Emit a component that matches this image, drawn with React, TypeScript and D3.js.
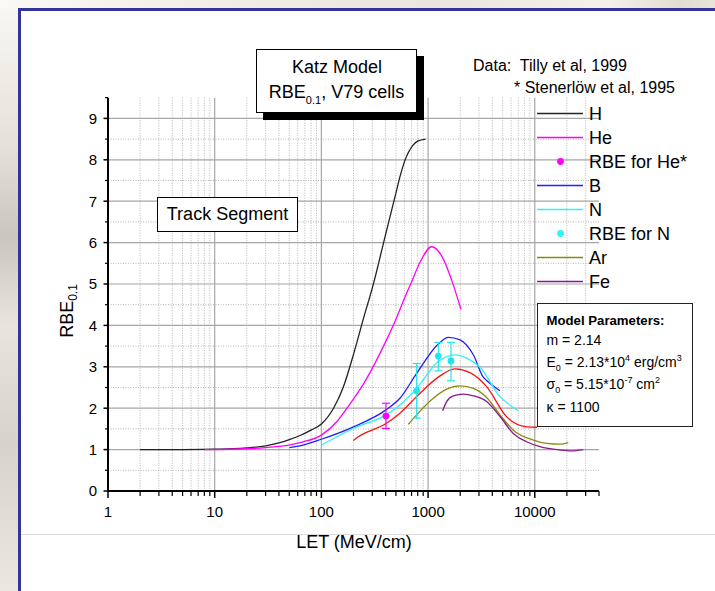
import React from 'react';
import * as d3 from 'd3';

// ---------- data (LET in MeV/cm, RBE_0.1) ----------
const H_LET = [2, 5, 10, 15, 20, 30, 40, 50, 63, 80, 100, 130, 160, 200, 250, 300, 400, 500, 546, 600, 727, 800, 950];
const H_RBE = [1.0, 1.0, 1.01, 1.02, 1.04, 1.09, 1.16, 1.24, 1.34, 1.47, 1.62, 2.0, 2.5, 3.3, 4.2, 4.9, 6.2, 7.2, 7.6, 7.95, 8.36, 8.45, 8.5];

const HE_LET = [8, 10, 20, 30, 50, 63, 100, 140, 185, 250, 320, 408, 500, 600, 700, 850, 1080, 1380, 1660, 2033];
const HE_RBE = [1.0, 1.0, 1.02, 1.05, 1.11, 1.17, 1.35, 1.68, 2.1, 2.6, 3.1, 3.65, 4.15, 4.65, 5.05, 5.55, 5.9, 5.62, 5.1, 4.39];

const B_LET = [50, 63, 100, 200, 403, 545, 781, 1247, 1547, 1991, 2655, 3293, 3539, 4720];
const B_RBE = [1.05, 1.09, 1.25, 1.55, 1.96, 2.24, 2.84, 3.55, 3.71, 3.65, 3.29, 2.75, 2.67, 2.42];

const N_LET = [100, 199, 403, 545, 781, 1247, 1786, 2298, 3065, 4720, 7010];
const N_RBE = [1.11, 1.51, 1.84, 2.08, 2.48, 3.13, 3.29, 3.21, 2.99, 2.28, 1.94];

const C_LET = [199, 222, 403, 545, 781, 1247, 1786, 2470, 3539, 5450, 8390, 10500];
const C_RBE = [1.22, 1.31, 1.63, 1.88, 2.28, 2.75, 2.95, 2.86, 2.52, 1.79, 1.55, 1.54];

const AR_LET = [653, 781, 1119, 1493, 1991, 2655, 3539, 4720, 6293, 9690, 12920, 17230, 20600];
const AR_RBE = [1.61, 1.84, 2.24, 2.46, 2.54, 2.48, 2.26, 1.84, 1.47, 1.23, 1.15, 1.13, 1.17];

const FE_LET = [1369, 1493, 1720, 2139, 2655, 3539, 4720, 6293, 8390, 11190, 17230, 22000, 28500];
const FE_RBE = [1.94, 2.16, 2.3, 2.34, 2.3, 2.16, 1.8, 1.39, 1.19, 1.07, 0.99, 0.97, 1.0];

// measured points (Tilly et al / Stenerlow et al)
const HE_PT_LET = [403];
const HE_PT_RBE = [1.81];
const HE_PT_LO = [1.51];
const HE_PT_HI = [2.12];

const N_PT_LET = [782, 1248, 1640];
const N_PT_RBE = [2.42, 3.26, 3.14];
const N_PT_LO = [1.76, 2.9, 2.66];
const N_PT_HI = [3.08, 3.59, 3.59];

const X_TICK_LABELS = ['1', '10', '100', '1000', '10000'];
const Y_TICK_LABELS = ['0', '1', '2', '3', '4', '5', '6', '7', '8', '9'];

const LEGEND_NAMES = ['H', 'He', 'RBE for He*', 'B', 'N', 'RBE for N', 'Ar', 'Fe'];

const COL = {
  H: '#222222',
  He: '#ff00ff',
  B: '#1f1fff',
  N: '#2ef2f6',
  C: '#ff1010',
  Ar: '#8a8a10',
  Fe: '#8a1a8a',
};

const FONT = "'Liberation Sans', Arial, Helvetica, sans-serif";

export default function App() {
  const W = 715;
  const HT = 591;
  const x = d3.scaleLog().domain([1, 40000]).range([108, 599]);
  const y = d3.scaleLinear().domain([0, 9.5]).range([491, 97.7]);

  const line = d3
    .line<[number, number]>()
    .x((d) => x(d[0]))
    .y((d) => y(d[1]))
    .curve(d3.curveMonotoneX);

  const zip = (a: number[], b: number[]) => a.map((v, i) => [v, b[i]] as [number, number]);

  const curves = [
    { d: zip(H_LET, H_RBE), c: COL.H },
    { d: zip(HE_LET, HE_RBE), c: COL.He },
    { d: zip(B_LET, B_RBE), c: COL.B },
    { d: zip(N_LET, N_RBE), c: COL.N },
    { d: zip(C_LET, C_RBE), c: COL.C },
    { d: zip(AR_LET, AR_RBE), c: COL.Ar },
    { d: zip(FE_LET, FE_RBE), c: COL.Fe },
  ];

  const decades = [1, 10, 100, 1000, 10000];
  const minorX: number[] = [];
  decades.forEach((d) => {
    for (let k = 2; k <= 9; k++) {
      const v = d * k;
      if (v <= 40000) minorX.push(v);
    }
  });
  const majorY = d3.range(0, 10);
  const minorY = d3.range(0.5, 9.6, 1);

  const x0 = x(1);
  const x1 = x(40000);
  const y0 = y(0);
  const yTop = y(9.5);

  const legendItems = [
    { name: LEGEND_NAMES[0], c: COL.H, kind: 'line' },
    { name: LEGEND_NAMES[1], c: COL.He, kind: 'line' },
    { name: LEGEND_NAMES[2], c: COL.He, kind: 'dot' },
    { name: LEGEND_NAMES[3], c: COL.B, kind: 'line' },
    { name: LEGEND_NAMES[4], c: COL.N, kind: 'line' },
    { name: LEGEND_NAMES[5], c: COL.N, kind: 'dot' },
    { name: LEGEND_NAMES[6], c: COL.Ar, kind: 'line' },
    { name: LEGEND_NAMES[7], c: COL.Fe, kind: 'line' },
  ];

  const errPts = [
    ...HE_PT_LET.map((l, i) => ({ l, v: HE_PT_RBE[i], lo: HE_PT_LO[i], hi: HE_PT_HI[i], c: '#ff00ff' })),
    ...N_PT_LET.map((l, i) => ({ l, v: N_PT_RBE[i], lo: N_PT_LO[i], hi: N_PT_HI[i], c: '#22e6ee' })),
  ];

  return (
    <svg
      width={W}
      height={HT}
      viewBox={`0 0 ${W} ${HT}`}
      style={{ position: 'absolute', left: 0, top: 0, display: 'block' }}
      fontFamily={FONT}
    >
      <defs>
        <linearGradient id="leftBg" x1="0" y1="0" x2="0" y2="1">
          <stop offset="0" stopColor="#faf8f3" />
          <stop offset="0.25" stopColor="#e4e1da" />
          <stop offset="0.4" stopColor="#c9c6c0" />
          <stop offset="0.55" stopColor="#e8e5df" />
          <stop offset="0.75" stopColor="#d6d3cd" />
          <stop offset="1" stopColor="#ebe8e2" />
        </linearGradient>
        <linearGradient id="topBg" x1="0" y1="0" x2="1" y2="0">
          <stop offset="0" stopColor="#fbf9f4" />
          <stop offset="0.3" stopColor="#f1eee7" />
          <stop offset="0.6" stopColor="#e9e6df" />
          <stop offset="0.85" stopColor="#f3f1ea" />
          <stop offset="0.95" stopColor="#e2ded2" />
          <stop offset="1" stopColor="#e8e4d8" />
        </linearGradient>
      </defs>

      {/* background outside the slide frame */}
      <rect x={0} y={0} width={W} height={HT} fill="url(#leftBg)" />
      <rect x={0} y={0} width={W} height={9} fill="url(#topBg)" />
      <rect x={20} y={10} width={W - 20} height={HT - 10} fill="#ffffff" />
      {/* frame */}
      <line x1={19.5} y1={8} x2={19.5} y2={HT} stroke="#34349c" strokeWidth={3} />
      <line x1={18} y1={9.5} x2={W} y2={9.5} stroke="#34349c" strokeWidth={3} />

      {/* separator line */}
      <line x1={21} y1={534.5} x2={W} y2={534.5} stroke="#dcdcdc" strokeWidth={1} />

      {/* grid */}
      <g>
        {minorX.filter((v) => v < 40000).map((v) => (
          <line key={'mx' + v} x1={x(v)} x2={x(v)} y1={yTop} y2={y0} stroke="#b4b4b4" strokeWidth={1} strokeDasharray="1,1.5" />
        ))}
        {minorY.filter((v) => v < 9.4).map((v) => (
          <line key={'my' + v} x1={x0} x2={x1} y1={y(v)} y2={y(v)} stroke="#b4b4b4" strokeWidth={1} strokeDasharray="1,1.5" />
        ))}
        {decades.slice(1).map((v) => (
          <line key={'Mx' + v} x1={x(v)} x2={x(v)} y1={yTop} y2={y0} stroke="#a6a6a6" strokeWidth={1.2} />
        ))}
        {majorY.slice(1).map((v) => (
          <line key={'My' + v} x1={x0} x2={x1} y1={y(v)} y2={y(v)} stroke="#a6a6a6" strokeWidth={1.2} />
        ))}
      </g>

      {/* curves */}
      <g fill="none" strokeWidth={1.3}>
        {curves.map((c, i) => (
          <path key={i} d={line(c.d) || ''} stroke={c.c} />
        ))}
      </g>

      {/* measured points with error bars */}
      <g>
        {errPts.map((p, i) => {
          const px = x(p.l);
          return (
            <g key={i} stroke={p.c} strokeWidth={1.2}>
              <line x1={px} x2={px} y1={y(p.lo)} y2={y(p.hi)} />
              <line x1={px - 4} x2={px + 4} y1={y(p.lo)} y2={y(p.lo)} />
              <line x1={px - 4} x2={px + 4} y1={y(p.hi)} y2={y(p.hi)} />
              <circle cx={px} cy={y(p.v)} r={3.4} fill={p.c} stroke="none" />
            </g>
          );
        })}
      </g>

      {/* axes */}
      <g stroke="#000">
        <line x1={x0} x2={x0} y1={yTop} y2={y0 + 1} strokeWidth={2} />
        <line x1={x0 - 1} x2={x1} y1={y0} y2={y0} strokeWidth={2} />
        {majorY.map((v) => (
          <line key={'yt' + v} x1={x0 - 4.5} x2={x0} y1={y(v)} y2={y(v)} strokeWidth={1.5} />
        ))}
        {minorY.map((v) => (
          <line key={'ymt' + v} x1={x0 - 3} x2={x0} y1={y(v)} y2={y(v)} strokeWidth={1.2} />
        ))}
        {decades.map((v) => (
          <line key={'xt' + v} x1={x(v)} x2={x(v)} y1={y0} y2={y0 + 7} strokeWidth={1.5} />
        ))}
        {minorX.map((v) => (
          <line key={'xmt' + v} x1={x(v)} x2={x(v)} y1={y0} y2={y0 + 5} strokeWidth={1.2} />
        ))}
      </g>
      <g fontSize={15} fill="#000">
        {majorY.map((v, i) => (
          <text key={'yl' + v} x={97} y={y(v) + 5.3} textAnchor="end">
            {Y_TICK_LABELS[i]}
          </text>
        ))}
        {decades.map((v, i) => (
          <text key={'xl' + v} x={x(v)} y={517} textAnchor="middle">
            {X_TICK_LABELS[i]}
          </text>
        ))}
      </g>

      {/* axis titles */}
      <text x={354} y={548} textAnchor="middle" fontSize={18}>
        LET (MeV/cm)
      </text>
      <text transform="translate(73,311) rotate(-90)" textAnchor="middle" fontSize={18}>
        RBE<tspan dy={4} fontSize={12}>0.1</tspan>
      </text>

      {/* Katz model title box */}
      <rect x={263} y={56} width={161} height={64} fill="#000" />
      <rect x={256.5} y={49.5} width={160} height={63} fill="#fff" stroke="#000" strokeWidth={1} />
      <text x={337} y={73} textAnchor="middle" fontSize={18}>
        Katz Model
      </text>
      <text x={336.5} y={98} textAnchor="middle" fontSize={18}>
        RBE<tspan dy={6} fontSize={11}>0.1</tspan>
        <tspan dy={-6}>, V79 cells</tspan>
      </text>

      {/* data source text */}
      <text x={473} y={70.5} fontSize={16} style={{ whiteSpace: 'pre' }}>
        {'Data:  Tilly et al, 1999'}
      </text>
      <text x={514} y={92.5} fontSize={16} style={{ whiteSpace: 'pre' }}>
        {'* Stenerlöw et al, 1995'}
      </text>

      {/* Track segment box */}
      <rect x={157.5} y={197.5} width={140} height={34} fill="#fff" stroke="#000" strokeWidth={1} />
      <text x={227.5} y={219.5} textAnchor="middle" fontSize={18}>
        Track Segment
      </text>

      {/* legend */}
      <g>
        {legendItems.map((it, i) => {
          const ly = 113.5 + i * 24;
          return (
            <g key={it.name}>
              {it.kind === 'line' ? (
                <line x1={537} x2={583} y1={ly} y2={ly} stroke={it.c} strokeWidth={1.4} />
              ) : (
                <circle cx={560.5} cy={ly} r={3.4} fill={it.c} />
              )}
              <text x={589} y={ly + 6.5} fontSize={18} fill="#000">
                {it.name}
              </text>
            </g>
          );
        })}
      </g>

      {/* model parameter box */}
      <rect x={537.5} y={303.5} width={155} height={123} fill="#fff" stroke="#222" strokeWidth={1} />
      <g fontSize={14} fill="#000" style={{ whiteSpace: 'pre' }}>
        <text x={546.5} y={325} fontWeight="bold" fontSize={13.2}>
          Model Parameters:
        </text>
        <text x={546.5} y={344.5}>m = 2.14</text>
        <text x={546.5} y={366.5}>
          E<tspan dy={4} fontSize={9}>0</tspan>
          <tspan dy={-4}>{' = 2.13*10'}</tspan>
          <tspan dy={-6} fontSize={9}>4</tspan>
          <tspan dy={6}>{' erg/cm'}</tspan>
          <tspan dy={-6} fontSize={9}>3</tspan>
        </text>
        <text x={546.5} y={389}>
          σ<tspan dy={4} fontSize={9}>0</tspan>
          <tspan dy={-4}>{'  = 5.15*10'}</tspan>
          <tspan dy={-6} fontSize={9}>-7</tspan>
          <tspan dy={6}>{' cm'}</tspan>
          <tspan dy={-6} fontSize={9}>2</tspan>
        </text>
        <text x={546.5} y={412}>{'κ  = 1100'}</text>
      </g>
    </svg>
  );
}
